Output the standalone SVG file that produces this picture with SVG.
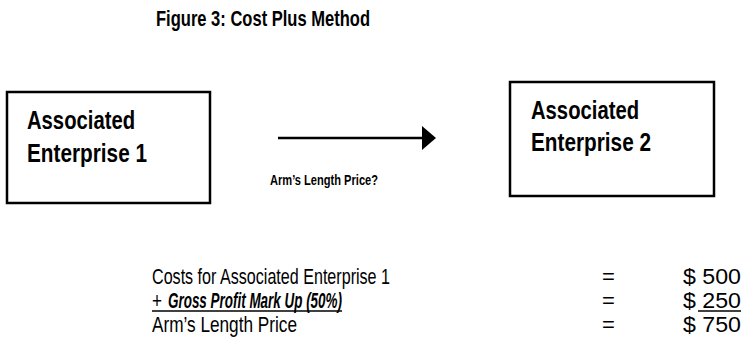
<svg xmlns="http://www.w3.org/2000/svg" width="746" height="358" viewBox="0 0 746 358">
<defs>
<style>
.t{font-family:"Liberation Sans",Arial,sans-serif;fill:#000}
.b{font-weight:bold}
.box{fill:#fff;stroke:#000;stroke-width:2.5}
.ln{stroke:#000;stroke-width:1.6}
</style>
</defs>
<rect width="746" height="358" fill="#fff"/>
<text class="t b" x="156" y="26" font-size="22" textLength="214" lengthAdjust="spacingAndGlyphs">Figure 3: Cost Plus Method</text>
<g id="ae1">
<rect class="box" x="7" y="92" width="203" height="111"/>
<text class="t b" x="27" y="129" font-size="25" textLength="108" lengthAdjust="spacingAndGlyphs">Associated</text>
<text class="t b" x="27" y="162" font-size="25" textLength="120" lengthAdjust="spacingAndGlyphs">Enterprise 1</text>
</g>
<g id="ae2">
<rect class="box" x="510" y="82" width="204" height="114"/>
<text class="t b" x="531" y="119" font-size="25" textLength="108" lengthAdjust="spacingAndGlyphs">Associated</text>
<text class="t b" x="531" y="151" font-size="25" textLength="120" lengthAdjust="spacingAndGlyphs">Enterprise 2</text>
</g>
<g id="connectors">
<line x1="278" y1="138" x2="424" y2="138" stroke="#000" stroke-width="2.5"/>
<polygon points="422,126 436,138 422,150" fill="#000"/>
<text class="t b" x="270" y="185" font-size="15" textLength="108" lengthAdjust="spacingAndGlyphs">Arm’s Length Price?</text>
</g>
<g id="calc">
<text class="t" x="152" y="284" font-size="22" textLength="238" lengthAdjust="spacingAndGlyphs">Costs for Associated Enterprise 1</text>
<text class="t" x="152" y="308" font-size="22" textLength="10" lengthAdjust="spacingAndGlyphs">+</text>
<text class="t b" x="168" y="308" font-size="22" font-style="italic" textLength="174" lengthAdjust="spacingAndGlyphs">Gross Profit Mark Up (50%)</text>
<line class="ln" x1="152" y1="311" x2="342" y2="311"/>
<text class="t" x="152" y="332" font-size="22" textLength="145" lengthAdjust="spacingAndGlyphs">Arm’s Length Price</text>
<text class="t" x="602" y="284" font-size="22">=</text>
<text class="t" x="602" y="308" font-size="22">=</text>
<text class="t" x="602" y="332" font-size="22">=</text>
<text class="t" x="683" y="284" font-size="22" textLength="58" lengthAdjust="spacingAndGlyphs">$ 500</text>
<text class="t" x="683" y="308" font-size="22" textLength="58" lengthAdjust="spacingAndGlyphs">$ 250</text>
<line class="ln" x1="698" y1="311" x2="741" y2="311"/>
<text class="t" x="683" y="332" font-size="22" textLength="58" lengthAdjust="spacingAndGlyphs">$ 750</text>
</g>
</svg>
